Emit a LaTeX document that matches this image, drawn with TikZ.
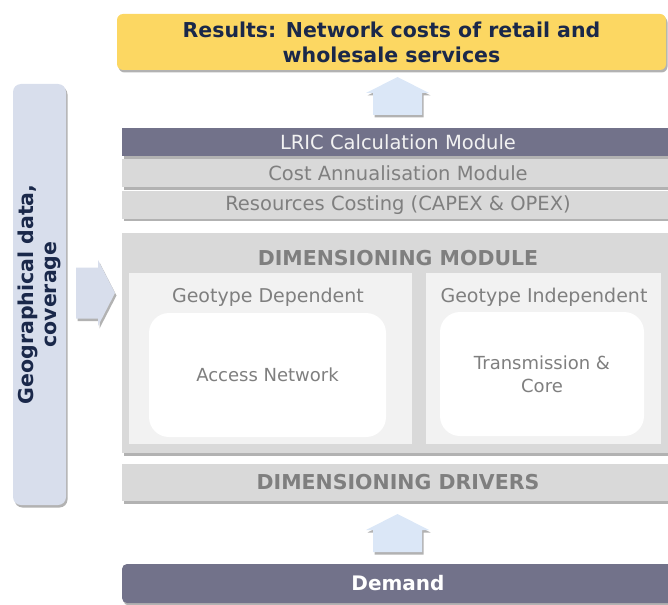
\documentclass[tikz,border=0pt]{standalone}
\usepackage{fontspec}
\setmainfont{DejaVu Sans}
\usetikzlibrary{positioning,shadows}
\definecolor{resultyellow}{RGB}{252,215,98}
\definecolor{navytext}{RGB}{26,40,74}
\definecolor{slatebar}{RGB}{114,114,138}
\definecolor{lightbar}{RGB}{217,217,217}
\definecolor{greytext}{RGB}{127,127,127}
\definecolor{panelfill}{RGB}{242,242,242}
\definecolor{sidefill}{RGB}{216,222,236}
\definecolor{arrowfill}{RGB}{219,231,247}
\begin{document}
\begin{tikzpicture}[
  x=1pt, y=-1pt,
  shadowed/.style={drop shadow={shadow xshift=1.5pt, shadow yshift=-2.5pt, fill=black!60, opacity=0.5}},
  bar/.style={rectangle, minimum width=552pt, minimum height=28pt, inner sep=0pt, fill=lightbar, text=greytext, shadowed, font=\fontsize{19.5}{22}\selectfont},
  darkbar/.style={bar, fill=slatebar, text=white!95!black},
  panel/.style={rectangle, minimum height=171pt, inner sep=0pt, fill=panelfill},
  inbox/.style={rectangle, rounded corners=20pt, minimum height=124pt, inner sep=0pt, fill=white, text=greytext, align=center, font=\fontsize{18}{23}\selectfont},
  boldgrey/.style={text=greytext, font=\bfseries\fontsize{20.5}{23}\selectfont},
  blockup/.pic={\path[pic actions, shadowed] (-24.5,0) -- (-24.5,-22) -- (-31.5,-22) -- (0,-38) -- (31.5,-22) -- (24.5,-22) -- (24.5,0) -- cycle;},
  blockright/.pic={\path[pic actions, shadowed] (0,-25.5) -- (22,-25.5) -- (22,-33) -- (39,0) -- (22,33) -- (22,25.5) -- (0,25.5) -- cycle;}
]
\useasboundingbox (0,0) rectangle (668,604);

\node[rectangle, rounded corners=6pt, minimum width=549pt, minimum height=56pt, fill=resultyellow, shadowed, text=navytext, align=center, font=\bfseries\fontsize{20.5}{25}\selectfont] (results) at (391.5,42) {Results: Network costs of retail and\\wholesale services};
\pic[fill=arrowfill] (uptop) at (397.5,115) {blockup};

\node[darkbar] (lric) at (398,142) {LRIC Calculation Module};
\node[bar, below=3pt of lric] (annual) {Cost Annualisation Module};
\node[bar, below=3pt of annual] (costing) {Resources Costing (CAPEX \& OPEX)};

% dimensioning module
\node[bar, minimum height=220pt] (dimmod) at (398,343) {};
\node[boldgrey] (dimtitle) at (398,258) {DIMENSIONING MODULE};
\node[panel, minimum width=283pt] (geodep) at (270.5,358.5) {};
\node[panel, minimum width=235pt] (geoind) at (543.5,358.5) {};
\node[text=greytext, font=\fontsize{19}{22}\selectfont] (deplabel) at (268,297) {Geotype Dependent};
\node[text=greytext, font=\fontsize{19}{22}\selectfont] (indlabel) at (544,297) {Geotype Independent};
\node[inbox, minimum width=237pt] (access) at (267.5,375) {Access Network};
\node[inbox, minimum width=204pt] (transcore) at (542,374) {Transmission \&\\Core};

\node[bar, minimum height=37pt, boldgrey] (drivers) at (398,482.5) {DIMENSIONING DRIVERS};
\pic[fill=arrowfill] (upbottom) at (397.5,552) {blockup};
\node[darkbar, rounded corners=5pt, minimum height=39pt, text=white, font=\bfseries\fontsize{20}{24}\selectfont] (demand) at (398,583.5) {Demand};

% geographical input
\node[rectangle, rounded corners=8pt, minimum width=53pt, minimum height=421pt, fill=sidefill, shadowed] (geobar) at (39.5,294.5) {};
\node[rotate=90, text=navytext, align=center, font=\bfseries\fontsize{20.5}{23}\selectfont] (geolabel) at (geobar.center) {Geographical data,\\coverage};
\pic[fill=sidefill] (rightarrow) at (76,293) {blockright};
\end{tikzpicture}
\end{document}
